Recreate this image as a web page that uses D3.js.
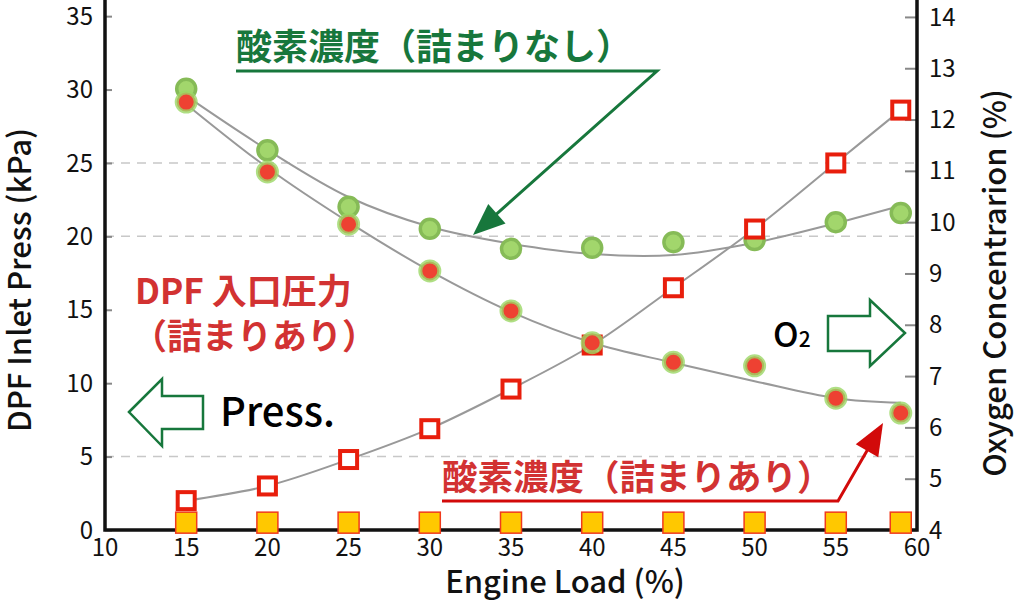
<!DOCTYPE html>
<html lang="ja">

<head>
    <meta charset="UTF-8">
    <title>DPF Inlet Press / Oxygen</title>
    <script src="https://d3js.org/d3.v7.min.js"></script>
    <style>
        html, body { margin: 0; padding: 0; background: #fff; }
        svg { display: block; font-family: "Noto Sans CJK JP", "Noto Sans", sans-serif; }
        .tick-label { font-size: 24px; fill: #111; }
        .axis-title { font-size: 31px; font-weight: 500; fill: #111; }
    </style>
</head>

<body>
    <svg id="chart" width="1024" height="600"></svg>

    <script>
        // engine load (%)
        const load = [15, 20, 25, 30, 35, 40, 45, 50, 55, 59];
        // DPF inlet pressure (kPa), with clogging / without
        const pressClogged = [2.0, 3.0, 4.8, 6.9, 9.6, 12.6, 16.5, 20.5, 25.0, 28.6];
        const pressClean = [0.5, 0.5, 0.5, 0.5, 0.5, 0.5, 0.5, 0.5, 0.5, 0.5];
        // oxygen concentration (%)
        const o2Clean = [12.6, 11.4, 10.3, 9.87, 9.48, 9.5, 9.61, 9.65, 10.0, 10.18];
        const o2Clogged = [12.34, 10.98, 9.96, 9.05, 8.27, 7.65, 7.27, 7.2, 6.57, 6.28];
        // trend curves
        const o2CleanTrend = [12.46, 11.41, 10.49, 9.91, 9.58, 9.38, 9.36, 9.6, 9.98, 10.32];
        const o2CloggedTrend = [12.3, 11.06, 10.0, 9.05, 8.25, 7.65, 7.26, 6.9, 6.57, 6.48];

        const xTicks = [10, 15, 20, 25, 30, 35, 40, 45, 50, 55, 60];
        const leftTicks = [0, 5, 10, 15, 20, 25, 30, 35];
        const rightTicks = [4, 5, 6, 7, 8, 9, 10, 11, 12, 13, 14];
        const gridValues = [5, 20, 25];

        const svg = d3.select("#chart");
        const plotL = 105, plotR = 917, plotT = 0, plotB = 530;

        const x = d3.scaleLinear().domain([10, 60]).range([plotL, plotR]);
        const yL = d3.scaleLinear().domain([0, 36.1]).range([plotB, plotT]);
        const yR = d3.scaleLinear().domain([4, 14.33]).range([plotB, plotT]);

        // dashed grid
        svg.append("g").selectAll("line")
            .data(gridValues).enter().append("line")
            .attr("x1", plotL).attr("x2", plotR)
            .attr("y1", d => yL(d)).attr("y2", d => yL(d))
            .attr("stroke", "#c8c8c8").attr("stroke-width", 1.5)
            .attr("stroke-dasharray", "9,7");

        // axes
        const axL = svg.append("g").attr("transform", `translate(${plotL},0)`)
            .call(d3.axisRight(yL).tickValues(leftTicks).tickSize(7).tickFormat(""));
        const axR = svg.append("g").attr("transform", `translate(${plotR},0)`)
            .call(d3.axisLeft(yR).tickValues(rightTicks).tickSize(12).tickFormat(""));
        [axL, axR].forEach(a => {
            a.select(".domain").remove();
            a.selectAll(".tick line").attr("stroke", "#888").attr("stroke-width", 2);
        });

        svg.append("g").selectAll("text")
            .data(leftTicks).enter().append("text")
            .attr("class", "tick-label")
            .attr("x", 93).attr("y", d => yL(d)).attr("dy", "0.36em")
            .attr("text-anchor", "end").text(d => d);
        svg.append("g").selectAll("text")
            .data(rightTicks).enter().append("text")
            .attr("class", "tick-label")
            .attr("x", 929).attr("y", d => yR(d)).attr("dy", "0.36em")
            .text(d => d);
        svg.append("g").selectAll("text")
            .data(xTicks).enter().append("text")
            .attr("class", "tick-label")
            .attr("x", d => x(d)).attr("y", 556)
            .attr("text-anchor", "middle").text(d => d);

        svg.append("path")
            .attr("d", `M${plotL},${plotT}V${plotB}H${plotR}V${plotT}`)
            .attr("fill", "none").attr("stroke", "#111").attr("stroke-width", 3.5);

        // axis titles
        svg.append("text").attr("class", "axis-title")
            .attr("transform", "translate(31,280) rotate(-90)")
            .attr("text-anchor", "middle").text("DPF Inlet Press (kPa)");
        svg.append("text").attr("class", "axis-title")
            .attr("transform", "translate(1006,283) rotate(-90)")
            .attr("text-anchor", "middle").text("Oxygen Concentrarion (%)");
        svg.append("text").attr("class", "axis-title")
            .attr("x", 565).attr("y", 593)
            .attr("text-anchor", "middle").text("Engine Load (%)");

        // trend curves
        const trend = (vals, y) => d3.line()
            .x((d, i) => x(load[i])).y(d => y(d))
            .curve(d3.curveCatmullRom)(vals);
        [[o2CleanTrend, yR], [o2CloggedTrend, yR], [pressClogged, yL]].forEach(([v, y]) => {
            svg.append("path").attr("d", trend(v, y))
                .attr("fill", "none").attr("stroke", "#999").attr("stroke-width", 2);
        });

        // yellow squares (pressure, no clogging)
        svg.append("g").selectAll("rect")
            .data(pressClean).enter().append("rect")
            .attr("x", (d, i) => x(load[i]) - 10.5).attr("y", d => yL(d) - 10.5)
            .attr("width", 21).attr("height", 21)
            .attr("fill", "#ffc800").attr("stroke", "#f03a1c").attr("stroke-width", 1.5);

        // green circles (O2, no clogging)
        svg.append("g").selectAll("circle")
            .data(o2Clean).enter().append("circle")
            .attr("cx", (d, i) => x(load[i])).attr("cy", d => yR(d))
            .attr("r", 9.5)
            .attr("fill", "#a2d66c").attr("stroke", "#86bb57").attr("stroke-width", 3.5);

        // red open squares (pressure, clogging)
        svg.append("g").selectAll("rect")
            .data(pressClogged).enter().append("rect")
            .attr("x", (d, i) => x(load[i]) - 8.5).attr("y", d => yL(d) - 8.5)
            .attr("width", 17).attr("height", 17)
            .attr("fill", "#fff").attr("stroke", "#e81e0c").attr("stroke-width", 4);

        // red dots (O2, clogging)
        svg.append("g").selectAll("circle")
            .data(o2Clogged).enter().append("circle")
            .attr("cx", (d, i) => x(load[i])).attr("cy", d => yR(d))
            .attr("r", 9.5)
            .attr("fill", "#ee4132").attr("stroke", "#9bd765").attr("stroke-opacity", 0.8)
            .attr("stroke-width", 4);

        // annotations
        const green = "#17773c", red = "#d23232";

        function callout(pts, color) {
            const n = pts.length;
            const [x0, y0] = pts[n - 2], [x1, y1] = pts[n - 1];
            const len = Math.hypot(x1 - x0, y1 - y0);
            const ux = (x1 - x0) / len, uy = (y1 - y0) / len;
            const hl = 32, hw = 13;
            const bx = x1 - ux * hl, by = y1 - uy * hl;
            const line = pts.slice(0, n - 1).concat([[bx + ux * 4, by + uy * 4]]);
            svg.append("path").attr("d", d3.line()(line))
                .attr("fill", "none").attr("stroke", color).attr("stroke-width", 3);
            svg.append("path")
                .attr("d", d3.line()([[x1, y1], [bx - uy * hw, by + ux * hw], [bx + uy * hw, by - ux * hw]]) + "Z")
                .attr("fill", color);
        }

        svg.append("text").attr("x", 236).attr("y", 60)
            .attr("font-size", 36).attr("font-weight", 700).attr("fill", green)
            .text("酸素濃度（詰まりなし）");
        callout([[236, 71], [657, 71], [473, 235]], green);

        svg.append("text").attr("x", 442).attr("y", 490)
            .attr("font-size", 35.5).attr("font-weight", 700).attr("fill", red)
            .text("酸素濃度（詰まりあり）");
        callout([[442, 501], [838, 501], [883, 423]], "#d20a0a");

        const dpf = svg.append("text").attr("font-size", 35).attr("font-weight", 700).attr("fill", red);
        dpf.append("tspan").attr("x", 135).attr("y", 304).text("DPF 入口圧力");
        dpf.append("tspan").attr("x", 132).attr("y", 349).text("（詰まりあり）");

        svg.append("text").attr("x", 220).attr("y", 426)
            .attr("font-size", 40).attr("font-weight", 500).attr("fill", "#000")
            .text("Press.");

        const o2 = svg.append("text").attr("x", 773).attr("y", 347)
            .attr("font-weight", 500).attr("fill", "#000");
        o2.append("tspan").attr("font-size", 34).text("O");
        o2.append("tspan").attr("font-size", 21).text("2");

        // hollow arrows
        svg.append("path")
            .attr("d", d3.line()([[129, 412], [162, 379], [162, 396], [203, 396], [203, 429], [162, 429], [162, 446]]) + "Z")
            .attr("fill", "none").attr("stroke", green).attr("stroke-width", 2.5);
        svg.append("path")
            .attr("d", d3.line()([[828, 316], [870, 316], [870, 300], [905, 333], [870, 366], [870, 351], [828, 351]]) + "Z")
            .attr("fill", "none").attr("stroke", green).attr("stroke-width", 2.5);
    </script>
</body>

</html>
